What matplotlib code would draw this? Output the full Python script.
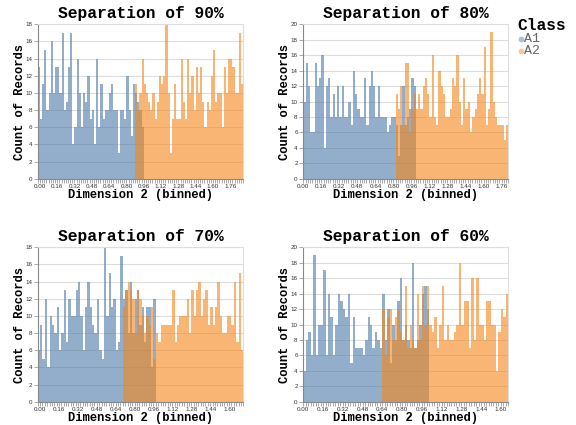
import matplotlib
matplotlib.use('Agg')
import matplotlib.pyplot as plt
import numpy as np
from matplotlib.ticker import MultipleLocator, FormatStrFormatter
from matplotlib.lines import Line2D

# histogram counts per 0.02 bin
bin_size = 0.02
titles = ['Separation of 90%', 'Separation of 80%', 'Separation of 70%', 'Separation of 60%']

sep90_a1_start = -0.02
sep90_a1 = [13, 7, 11, 15, 8, 10, 16, 10, 13, 13, 10, 17, 8, 9, 13, 17, 4, 6, 14, 10,
            6, 10, 9, 12, 7, 8, 4, 14, 6, 11, 7, 8, 8, 10, 11, 8, 8, 3, 8, 8,
            7, 12, 8, 5, 11, 10, 9, 8, 6]
sep90_a2_start = 0.88
sep90_a2 = [11, 8, 10, 14, 11, 10, 9, 8, 10, 7, 9, 12, 11, 12, 18, 10, 3, 7, 11, 7,
            7, 14, 9, 7, 14, 10, 12, 8, 13, 10, 13, 9, 6, 9, 8, 12, 15, 9, 10, 10,
            6, 13, 10, 14, 14, 13, 10, 10, 17, 11]

sep80_a1_start = 0.00
sep80_a1 = [10, 15, 12, 6, 6, 15, 12, 13, 16, 4, 12, 13, 8, 11, 8, 12, 8, 12, 8, 8,
            10, 7, 14, 11, 9, 8, 8, 13, 7, 12, 14, 12, 8, 12, 8, 8, 8, 6, 7, 8,
            8, 7, 3, 7, 12, 7, 8, 9, 13, 12]
sep80_a2_start = 0.82
sep80_a2 = [11, 9, 12, 7, 15, 15, 6, 9, 11, 9, 11, 9, 12, 13, 11, 8, 16, 8, 7, 14,
            12, 11, 8, 8, 9, 13, 12, 16, 10, 7, 13, 9, 10, 6, 8, 9, 11, 13, 11, 17,
            7, 9, 19, 10, 8, 7, 7, 7, 5, 7]

sep70_a1_start = -0.02
sep70_a1 = [6, 9, 5, 12, 4, 10, 9, 8, 11, 6, 8, 13, 7, 12, 10, 10, 13, 14, 10, 6,
            11, 14, 11, 9, 8, 12, 6, 5, 18, 10, 15, 11, 12, 6, 7, 17, 12, 13, 8, 14,
            8, 12, 13, 9, 11, 7, 11, 11, 4, 12]
sep70_a2_start = 0.70
sep70_a2 = [11, 13, 14, 13, 12, 8, 13, 12, 10, 8, 10, 9, 11, 5, 8, 7, 9, 9, 9, 9,
            9, 13, 7, 9, 10, 10, 10, 12, 8, 13, 10, 13, 14, 10, 12, 13, 9, 11, 9, 11,
            14, 10, 8, 8, 10, 10, 9, 14, 7, 15, 6]

sep60_a1_start = 0.00
sep60_a1 = [4, 8, 9, 6, 19, 6, 10, 10, 17, 6, 14, 11, 6, 10, 14, 13, 12, 11, 14, 5,
            11, 7, 7, 7, 6, 8, 11, 10, 7, 9, 8, 7, 14, 8, 12, 5, 10, 8, 13, 16,
            8, 10, 8, 7, 18, 7, 8, 10, 14, 15, 12]
sep60_a2_start = 0.64
sep60_a2 = [12, 6, 11, 12, 8, 11, 12, 9, 8, 15, 7, 10, 8, 7, 14, 8, 15, 10, 15, 10,
            9, 11, 7, 10, 15, 8, 10, 8, 8, 9, 10, 18, 10, 13, 13, 7, 16, 8, 16, 10,
            10, 8, 13, 13, 10, 10, 4, 9, 12, 11, 14]

panels = [
    (sep90_a1_start, sep90_a1, sep90_a2_start, sep90_a2),
    (sep80_a1_start, sep80_a1, sep80_a2_start, sep80_a2),
    (sep70_a1_start, sep70_a1, sep70_a2_start, sep70_a2),
    (sep60_a1_start, sep60_a1, sep60_a2_start, sep60_a2),
]

classes = ['A1', 'A2']
colors = ['#4c78a8', '#f58518']

W, H = 576, 425
fig = plt.figure(figsize=(W / 100, H / 100), dpi=100)

mono = 'Liberation Mono'
sans = 'Liberation Sans'

# plot boxes in pixels: left, top, width, height
boxes = [(37.7, 24.3, 205.6, 154.4), (303.3, 24.3, 205.0, 154.4),
         (37.7, 247.3, 205.6, 154.4), (303.3, 247.3, 205.0, 154.4)]

for (l, t, w, h), title, (s1, c1, s2, c2) in zip(boxes, titles, panels):
    ax = fig.add_axes([l / W, 1 - (t + h) / H, w / W, h / H])
    e1 = s1 + bin_size * np.arange(len(c1) + 1)
    e2 = s2 + bin_size * np.arange(len(c2) + 1)
    ax.stairs(c1, e1, fill=True, color=colors[0], alpha=0.6, lw=0)
    ax.stairs(c2, e2, fill=True, color=colors[1], alpha=0.6, lw=0)

    xmin = min(e1[0], e2[0])
    xmax = max(e1[-1], e2[-1])
    ymax = int(np.ceil(max(max(c1), max(c2)) / 2.0) * 2)
    ax.set_xlim(xmin, xmax)
    ax.set_ylim(0, ymax)

    ax.xaxis.set_major_locator(MultipleLocator(0.16))
    ax.xaxis.set_minor_locator(MultipleLocator(bin_size))
    ax.yaxis.set_major_locator(MultipleLocator(2))
    ax.xaxis.set_major_formatter(FormatStrFormatter('%.2f'))

    ax.yaxis.grid(True, color='#dddddd', lw=0.8)
    ax.set_axisbelow(True)
    for side in ['top', 'right']:
        ax.spines[side].set_color('#dddddd')
        ax.spines[side].set_linewidth(0.8)
    for side in ['left', 'bottom']:
        ax.spines[side].set_color('#888888')
        ax.spines[side].set_linewidth(0.8)

    ax.tick_params(axis='both', which='both', length=3, width=0.5, color='#888888',
                   labelsize=4.5, pad=1.0, labelcolor='#333333')
    for lab in ax.get_xticklabels() + ax.get_yticklabels():
        lab.set_family(sans)
    fig.canvas.draw()
    xl = ax.get_xticklabels()
    if xl:
        xl[0].set_horizontalalignment('left')

    ax.text(0.5, 1 + 10.5 / h, title, transform=ax.transAxes, ha='center', va='center',
            family=mono, weight='bold', fontsize=11.7)
    ax.text(0.5, -16 / h, 'Dimension 2 (binned)', transform=ax.transAxes, ha='center',
            va='center', family=mono, weight='bold', fontsize=8.7)
    ax.text(-18 / w, 0.5, 'Count of Records', transform=ax.transAxes, ha='center',
            va='center', rotation=90, family=mono, weight='bold', fontsize=8.7)

# legend
fig.text(517 / W, 1 - 25 / H, 'Class', ha='left', va='center', family=mono,
         weight='bold', fontsize=11.7)
for i, (name, col) in enumerate(zip(classes, colors)):
    y = 1 - (39.3 + 11.8 * i) / H
    fig.add_artist(Line2D([520.7 / W], [y], marker='o', markersize=4.2, color=col,
                          alpha=0.45, lw=0, markeredgewidth=0, transform=fig.transFigure))
    fig.text(524 / W, y, name, ha='left', va='center', family=mono, fontsize=9.5,
             color='#666666')

fig.savefig('out.png', dpi=100)
